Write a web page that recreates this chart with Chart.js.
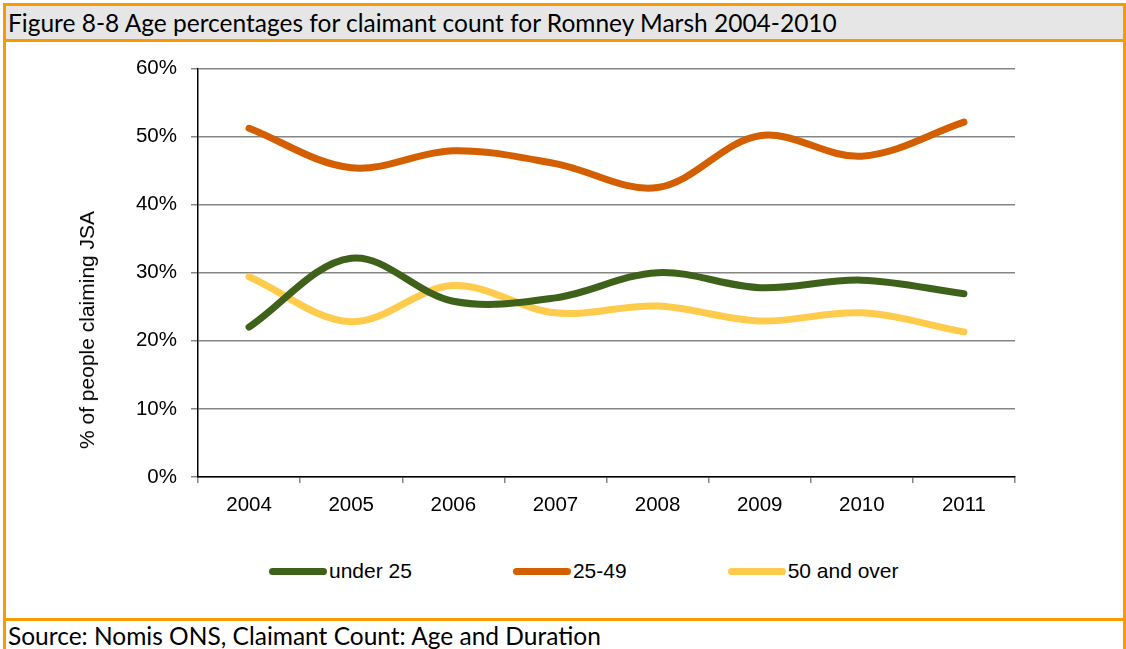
<!DOCTYPE html>
<html>
<head>
<meta charset="utf-8">
<title>Age percentages for claimant count</title>
<script src="https://cdn.jsdelivr.net/npm/chart.js@4.4.1/dist/chart.umd.min.js"></script>
<style>
    html, body { margin: 0; padding: 0; background: #fff; }
    body { width: 1126px; height: 649px; position: relative; overflow: hidden; }
    .edge { position: absolute; background: #f99a00; }
    #title-bar {
        position: absolute; left: 6px; top: 6px; width: 1117px; height: 33px;
        background: #e6e6e6;
        font-family: Lato, "Open Sans", sans-serif; font-size: 24.5px; color: #000;
        line-height: 33px; padding-left: 2px; box-sizing: border-box; white-space: nowrap;
    }
    #source {
        position: absolute; left: 8px; top: 620px;
        font-family: Lato, "Open Sans", sans-serif; font-size: 24.5px; color: #000;
        line-height: 32px; white-space: nowrap;
    }
    #chart-box { position: absolute; left: 50px; top: 42px; width: 1070px; height: 488px; }
    #y-title {
        position: absolute; left: 87px; top: 330px;
        transform: translate(-50%, -50%) rotate(-90deg);
        font-family: "Liberation Sans", Arial, sans-serif; font-size: 21px; color: #000;
        white-space: nowrap;
    }
    #legend {
        position: absolute; left: 269px; top: 558px; height: 26px;
        display: flex; align-items: center;
        font-family: "Liberation Sans", Arial, sans-serif; font-size: 21px; color: #000;
    }
    .legend-item { display: flex; align-items: center; margin-right: 101px; }
    .legend-line { width: 58px; height: 7px; border-radius: 4px; margin-right: 2px; }
</style>
</head>
<body>
<div class="edge" style="left:3px; top:3px; width:1123px; height:3px;"></div>
<div class="edge" style="left:3px; top:3px; width:3px; height:646px;"></div>
<div class="edge" style="left:1123px; top:3px; width:3px; height:646px;"></div>
<div id="title-bar">Figure 8-8 Age percentages for claimant count for Romney Marsh 2004-2010</div>
<div class="edge" style="left:3px; top:39px; width:1123px; height:3px;"></div>
<div id="chart-box"><canvas id="claimant-chart"></canvas></div>
<div id="y-title">% of people claiming JSA</div>
<div id="legend"></div>
<div class="edge" style="left:3px; top:618px; width:1123px; height:3px;"></div>
<div id="source">Source: Nomis ONS, Claimant Count: Age and Duration</div>

<script>
// years on the x axis
const years = ['2004', '2005', '2006', '2007', '2008', '2009', '2010', '2011'];

// % of claimants in each age band
const under25 = [22.0, 32.1, 25.8, 26.3, 30.0, 27.8, 28.9, 26.9];
const age25to49 = [51.2, 45.4, 47.9, 46.0, 42.5, 50.1, 47.1, 52.1];
const age50plus = [29.4, 22.8, 28.1, 24.1, 25.1, 22.9, 24.1, 21.3];

const seriesNames = ['under 25', '25-49', '50 and over'];
const seriesColors = ['#3e6219', '#d45f00', '#ffcb4c'];

const yTicks = [0, 10, 20, 30, 40, 50, 60];

function makeLine(label, data, color) {
    return {
        label: label,
        data: data,
        borderColor: color,
        backgroundColor: color,
        borderWidth: 7,
        borderCapStyle: 'round',
        borderJoinStyle: 'round',
        tension: 0.35,
        pointRadius: 0,
        pointHoverRadius: 0,
        fill: false
    };
}

const ctx = document.getElementById('claimant-chart').getContext('2d');

const claimantChart = new Chart(ctx, {
    type: 'line',
    data: {
        labels: years,
        datasets: [
            makeLine(seriesNames[0], under25, seriesColors[0]),
            makeLine(seriesNames[1], age25to49, seriesColors[1]),
            makeLine(seriesNames[2], age50plus, seriesColors[2])
        ]
    },
    options: {
        responsive: true,
        maintainAspectRatio: false,
        animation: false,
        layout: {
            padding: { top: 23, right: 105, bottom: 0, left: 0 }
        },
        plugins: {
            legend: { display: false },
            tooltip: { enabled: false }
        },
        scales: {
            x: {
                offset: true,
                grid: {
                    offset: true,
                    drawOnChartArea: false,
                    drawTicks: true,
                    tickLength: 6,
                    color: '#868686',
                    lineWidth: 1.5
                },
                border: { color: '#000', width: 1.5 },
                ticks: {
                    color: '#000',
                    padding: 10,
                    font: { family: 'Liberation Sans', size: 20.5 }
                },
                afterFit: function(scale) {
                    scale.height = 53;
                }
            },
            y: {
                min: 0,
                max: 60,
                afterBuildTicks: function(scale) {
                    scale.ticks = yTicks.map(v => ({ value: v }));
                },
                grid: {
                    color: '#868686',
                    lineWidth: 1.5,
                    drawTicks: true,
                    tickLength: 7
                },
                border: { color: '#000', width: 1.5 },
                ticks: {
                    color: '#000',
                    padding: 14,
                    font: { family: 'Liberation Sans', size: 20.5 },
                    callback: function(value) {
                        return value + '%';
                    }
                },
                // axis title sits lower than centre in the original, drawn as html instead
                title: { display: false },
                afterFit: function(scale) {
                    scale.width = 148;
                }
            }
        }
    }
});

// html legend, the original has wide gaps between entries
const legendEl = document.getElementById('legend');
seriesNames.forEach(function(name, i) {
    const item = document.createElement('div');
    item.className = 'legend-item';
    const line = document.createElement('span');
    line.className = 'legend-line';
    line.style.background = seriesColors[i];
    const text = document.createElement('span');
    text.textContent = name;
    item.appendChild(line);
    item.appendChild(text);
    legendEl.appendChild(item);
});
</script>
</body>
</html>
